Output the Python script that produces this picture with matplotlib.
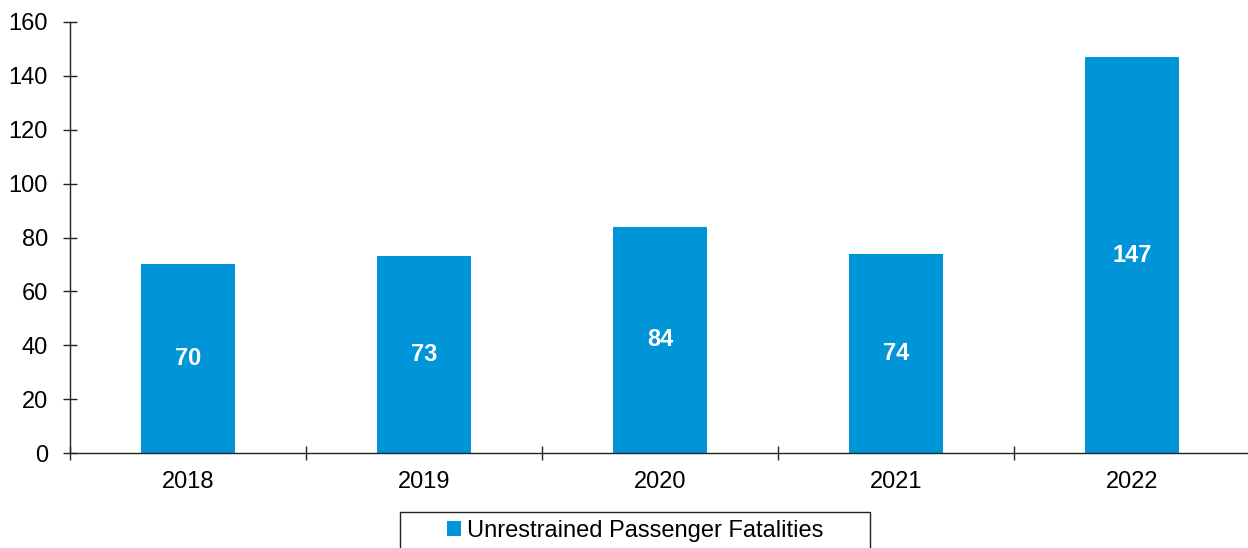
import matplotlib.pyplot as plt
from matplotlib.patches import Rectangle

# data
years = ["2018", "2019", "2020", "2021", "2022"]
fatalities = [70, 73, 84, 74, 147]
series_name = "Unrestrained Passenger Fatalities"
bar_color = "#0094D8"

plt.rcParams["font.family"] = ["Liberation Sans", "DejaVu Sans"]

W, H = 1248, 548
fig = plt.figure(figsize=(W / 100, H / 100), dpi=100)
ax = fig.add_axes([70 / W, (H - 453) / H, (1250 - 70) / W, (453 - 22) / H])

x = list(range(len(years)))
bars = ax.bar(x, fatalities, width=0.4, color=bar_color, label=series_name, zorder=2)

# value labels in the middle of each bar
for xi, v in zip(x, fatalities):
    ax.text(xi, v / 2, str(v), ha="center", va="center", color="white",
            fontsize=17, fontweight="bold")

ax.set_xlim(-0.5, len(years) - 0.5)
ax.set_ylim(0, 160)
ax.set_yticks(range(0, 161, 20))

# tick marks between categories, labels at the centres
ax.set_xticks([i - 0.5 for i in range(len(years) + 1)])
ax.set_xticklabels([])
ax.set_xticks(x, minor=True)
ax.set_xticklabels(years, minor=True)
ax.tick_params(axis="x", which="major", direction="inout", length=10, width=1, color="#222222")
ax.tick_params(axis="x", which="minor", length=0, pad=13, labelsize=17)
ax.tick_params(axis="y", direction="inout", length=10, width=1, color="#222222",
               pad=11, labelsize=17)

for side in ["top", "right"]:
    ax.spines[side].set_visible(False)
for side in ["left", "bottom"]:
    ax.spines[side].set_color("#222222")
    ax.spines[side].set_linewidth(1)

# legend box at the bottom
fig.patches.append(Rectangle((400 / W, -0.01), 470 / W, (H - 512) / H + 0.01,
                             transform=fig.transFigure, fill=False,
                             edgecolor="#222222", linewidth=1))
fig.legend(handles=[bars], labels=[series_name], loc="center",
           bbox_to_anchor=(635 / W, (H - 531) / H), frameon=False, fontsize=17,
           handlelength=0.6, handleheight=0.6, handletextpad=0.25)

fig.savefig("out.png", dpi=100)
